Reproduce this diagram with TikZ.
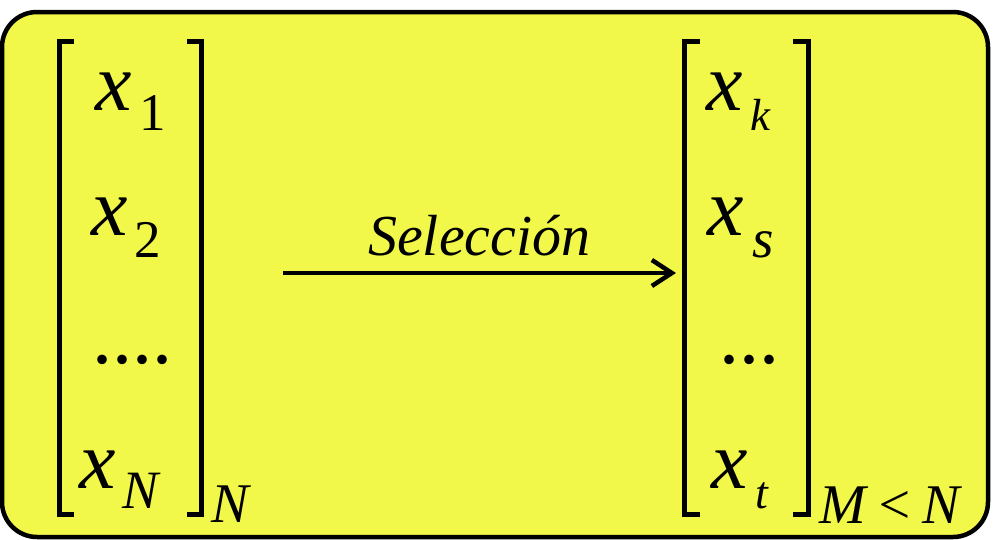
\documentclass[tikz,border=0pt]{standalone}
\usepackage{fontspec}
\setmainfont{Liberation Serif}
\usetikzlibrary{arrows.meta}
\definecolor{boxyellow}{RGB}{242,248,74}
\newcommand\myfs[1]{\fontsize{#1}{#1}\selectfont}
\begin{document}
\begin{tikzpicture}[x=1pt,y=-1pt,
  txt/.style={inner sep=0pt, anchor=base west, font=\itshape},
  dots/.style={inner sep=0pt, anchor=base west, font=\myfs{80}},
  brk/.style={line width=5pt},
]
\useasboundingbox (0,0) rectangle (994,539);
\draw[line width=4.5pt, fill=boxyellow, rounded corners=35pt] (2,12) rectangle (988,537);
% left vector
\draw[brk] (74,41) -- (59,41) -- (59,514) -- (74,514);
\draw[brk] (187,41) -- (201,41) -- (201,514) -- (187,514);
% right vector
\draw[brk] (700,41) -- (684,41) -- (684,514) -- (700,514);
\draw[brk] (793,41) -- (808,41) -- (808,514) -- (793,514);
% left entries
\node[txt, font=\itshape\myfs{82}] (x1) at (95,110) {x};
\node[txt, font=\myfs{53}] (s1) at (139,130) {1};
\node[txt, font=\itshape\myfs{82}] (x2) at (91,235) {x};
\node[txt, font=\myfs{53}] (s2) at (134,257) {2};
\node[dots] (d1) at (92,363) {....};
\node[txt, font=\itshape\myfs{82}] (xN) at (79,488) {x};
\node[txt, font=\itshape\myfs{54}] (sN) at (122,508) {N};
\node[txt, font=\itshape\myfs{56}] (nN) at (211,522) {N};
% right entries
\node[txt, font=\itshape\myfs{82}] (xk) at (706,110) {x};
\node[txt, font=\itshape\myfs{45}] (sk) at (750,130) {k};
\node[txt, font=\itshape\myfs{82}] (xs) at (707,235) {x};
\node[txt, font=\itshape\myfs{55}] (ss) at (752,257) {s};
\node[dots] (d2) at (719,363) {...};
\node[txt, font=\itshape\myfs{82}] (xt) at (711,488) {x};
\node[txt, font=\itshape\myfs{46}] (st) at (755,508) {t};
\node[txt, font=\itshape\myfs{56}] (mN) at (819,523) {M\,<\,N};
% arrow
\node[txt, font=\itshape\myfs{58}] (sel) at (368,255) {Selección};
\coordinate (as) at (283,273);
\coordinate (ae) at (676,273);
\draw[line width=4.5pt, -{Straight Barb[length=20pt,width=26pt]}] (as) -- (ae);
\end{tikzpicture}
\end{document}
